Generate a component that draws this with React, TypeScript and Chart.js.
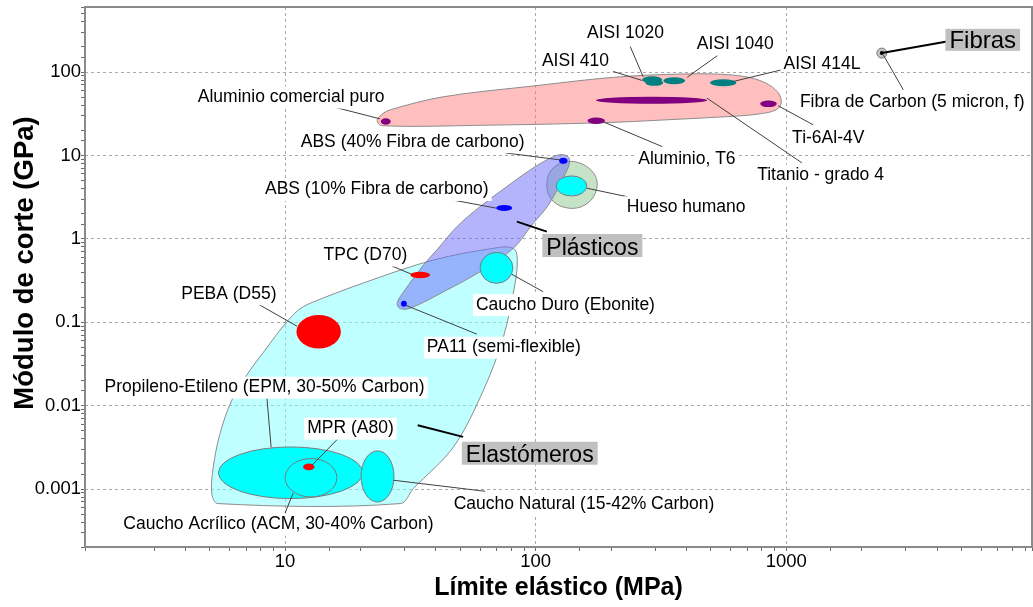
import React, { useEffect, useRef } from 'react';
import { Chart, registerables } from 'chart.js';

Chart.register(...registerables);

// ---------- axes ----------
const X_MIN = 1.59;
const X_MAX = 9570;
const Y_MIN = 0.000202;
const Y_MAX = 603;
const X_TITLE = 'Límite elástico (MPa)';
const Y_TITLE = 'Módulo de corte (GPa)';

// ---------- materials (yield strength MPa range, shear modulus GPa range) ----------
const materialNames = [
  'Propileno-Etileno (EPM, 30-50% Carbon)',
  'Caucho Acrílico (ACM, 30-40% Carbon)',
  'MPR (A80)',
  'Caucho Natural (15-42% Carbon)',
  'PEBA (D55)',
  'Caucho Duro (Ebonite)',
  'TPC (D70)',
  'PA11 (semi-flexible)',
  'ABS (10% Fibra de carbono)',
  'Hueso humano',
  'ABS (40% Fibra de carbono)',
  'Aluminio comercial puro',
  'Aluminio, T6',
  'Titanio - grado 4',
  'Ti-6Al-4V',
  'AISI 1020',
  'AISI 410',
  'AISI 1040',
  'AISI 414L',
  'Fibra de Carbon (5 micron, f)',
];
const yieldLow = [5.42, 10.0, 11.8, 20.1, 11.1, 60.0, 31.6, 29.0, 69.6, 120.7, 124, 24.1, 161, 174, 787, 266, 274, 323, 497, 2300];
const yieldHigh = [20.4, 16.1, 13.1, 27.2, 16.7, 81.1, 37.9, 30.6, 80.6, 160, 134, 26.4, 189, 484, 917, 320, 323, 395, 632, 2520];
const shearLow = [0.000769, 0.000804, 0.00168, 0.0007, 0.0486, 0.293, 0.337, 0.154, 2.16, 3.27, 7.93, 23.3, 23.8, 41.6, 38.0, 73.4, 68.5, 71.4, 67.5, 147];
const shearHigh = [0.0032, 0.00232, 0.00202, 0.00287, 0.122, 0.69, 0.404, 0.181, 2.55, 5.69, 9.36, 28.0, 28.5, 50.5, 45.6, 89.0, 80.8, 86.6, 82.0, 194];

// styles (kept apart from the values)
const materialFill = [
  '#00ffff', '#00ffff', '#ff0000', '#00ffff', '#ff0000', '#00ffff', '#ff0000', '#0000ff', '#0000ff', '#00ffff',
  '#0000ff', '#800080', '#800080', '#800080', '#800080', '#008080', '#008080', '#008080', '#008080', '#c4c4c4',
];
const materialOutlined = [true, true, false, true, false, true, false, false, false, true, false, false, false, false, false, false, false, false, false, true];
const materialCenterDot = [false, false, false, false, false, false, false, false, false, false, false, false, false, false, false, false, false, false, false, true];

// ---------- family envelopes ----------
const elastomerEnvX = [81.3, 84.4, 82.8, 74.4, 61.9, 47.0, 32.5, 28.8, 5.4, 5.1, 5.17, 5.5, 6.13, 7.25, 8.32, 9.55, 11.17, 12.58, 21.2, 39.1, 67.9];
const elastomerEnvY = [0.7715, 0.59, 0.293, 0.067, 0.01535, 0.0032, 0.001014, 0.00067, 0.00067, 0.000883, 0.00184, 0.00464, 0.01164, 0.02668, 0.0464, 0.0806, 0.1363, 0.1686, 0.3063, 0.558, 0.7715];
const boneEnvX = [111.2, 117.5, 132.4, 153.3, 171.2, 176.0, 166.6, 146.5, 125.3, 113.2];
const boneEnvY = [5.094, 7.099, 8.448, 7.93, 6.014, 4.315, 2.931, 2.35, 2.483, 3.273];
const plasticEnvX = [28.0, 29.3, 35.66, 40.3, 48.5, 60.0, 76.7, 95.1, 117.8, 130.0, 136.7, 132.4, 112.5, 96.6, 81.5, 60.0, 44.2, 31.55, 28.8];
const plasticEnvY = [0.1677, 0.2181, 0.486, 0.7357, 1.401, 2.436, 4.233, 6.716, 9.7, 10.17, 8.855, 6.356, 2.553, 1.469, 0.7715, 0.404, 0.2435, 0.1469, 0.1461];
const metalEnvX = [23.3, 24.2, 26.3, 42.7, 99.5, 217.5, 453.6, 673.3, 824.6, 929, 955, 912, 787, 614.3, 335, 180.9, 60.0, 24.4];
const metalEnvY = [26.0, 30.7, 35.3, 50.5, 68.5, 87.8, 95.4, 89.0, 74.4, 56.4, 42.8, 35.3, 31.6, 29.5, 26.8, 24.6, 23.0, 22.7];

const envelopeXs = [elastomerEnvX, boneEnvX, plasticEnvX, metalEnvX];
const envelopeYs = [elastomerEnvY, boneEnvY, plasticEnvY, metalEnvY];
const envelopeFill = ['rgba(128,255,255,0.5)', 'rgba(144,200,144,0.5)', 'rgba(112,112,250,0.52)', 'rgba(255,128,128,0.5)'];

// ---------- annotations ----------
const labelTexts = [
  'AISI 1020', 'AISI 410', 'AISI 1040', 'AISI 414L', 'Fibras', 'Fibra de Carbon (5 micron, f)', 'Ti-6Al-4V',
  'Titanio - grado 4', 'Aluminio, T6', 'Aluminio comercial puro', 'ABS (40% Fibra de carbono)',
  'ABS (10% Fibra de carbono)', 'Hueso humano', 'Plásticos', 'TPC (D70)', 'Caucho Duro (Ebonite)',
  'PA11 (semi-flexible)', 'PEBA (D55)', 'Propileno-Etileno (EPM, 30-50% Carbon)', 'MPR (A80)', 'Elastómeros',
  'Caucho Natural (15-42% Carbon)', 'Caucho Acrílico (ACM, 30-40% Carbon)',
];
const labelX = [228.3, 144.2, 625.8, 1388.7, 6087, 3184, 1471.5, 1370.9, 401.5, 10.57, 32.28, 23.23, 398.9, 168.4, 20.92, 131.5, 74.65, 5.966, 8.284, 18.23, 94.71, 155.9, 9.404];
const labelY = [304.7, 140.5, 224.8, 131.1, 244.3, 45.23, 16.96, 6.014, 9.359, 51.94, 15.18, 4.051, 2.503, 0.815, 0.6643, 0.1686, 0.05208, 0.2273, 0.01724, 0.005566, 0.002632, 0.000685, 0.000394];
const labelIsFamily = labelTexts.map((t) => t === 'Fibras' || t === 'Plásticos' || t === 'Elastómeros');

const leaderFromX = [238.4, 203.9, 530.4, 961.2, 4381, 2932, 1281.6, 1155.5, 319.8, 15.54, 75.55, 44.2, 231.3, 110.8, 26.67, 107.2, 58.23, 7.709, 8.451, 16.18, 51.35, 62.86, 10.0];
const leaderFromY = [202.9, 101.7, 156.9, 106.6, 232.9, 61.3, 23.3, 8.152, 12.79, 38.31, 10.74, 3.013, 3.211, 1.22, 0.4728, 0.2324, 0.07215, 0.1686, 0.013, 0.003961, 0.004222, 0.000941, 0.000517];
const leaderToX = [268.6, 266.2, 402.6, 614.3, 2410, 2439, 929, 482.4, 186.0, 23.94, 125.3, 70.0, 160.1, 84.14, 32.05, 80.35, 30.13, 11.14, 8.794, 12.79, 33.81, 27.11, 10.76];
const leaderToY = [87.8, 79.3, 86.6, 77.1, 169.1, 161.3, 39.4, 48.74, 25.32, 27.5, 8.855, 2.329, 4.051, 1.609, 0.3758, 0.3758, 0.1609, 0.09002, 0.003175, 0.00193, 0.005833, 0.001275, 0.00089];

const FONT = "'Liberation Sans', Arial, Helvetica, sans-serif";

function isPow10(v: number) {
  const l = Math.log10(v);
  return Math.abs(l - Math.round(l)) < 1e-6;
}
function fmtPow10(v: number) {
  const e = Math.round(Math.log10(v));
  return e >= 0 ? String(Math.pow(10, e)) : '0.' + '0'.repeat(-e - 1) + '1';
}

function unit(ax: number, ay: number) {
  const l = Math.hypot(ax, ay) || 1;
  return [ax / l, ay / l];
}

// closed smooth curve whose handles scale with each segment's own length (no overshoot)
function smoothClosedPath(ctx: CanvasRenderingContext2D, pts: number[][], s: number) {
  const n = pts.length;
  ctx.beginPath();
  ctx.moveTo(pts[0][0], pts[0][1]);
  for (let i = 0; i < n; i++) {
    const p0 = pts[(i - 1 + n) % n];
    const p1 = pts[i];
    const p2 = pts[(i + 1) % n];
    const p3 = pts[(i + 2) % n];
    const len = Math.hypot(p2[0] - p1[0], p2[1] - p1[1]);
    const d1 = unit(p2[0] - p0[0], p2[1] - p0[1]);
    const d2 = unit(p3[0] - p1[0], p3[1] - p1[1]);
    ctx.bezierCurveTo(
      p1[0] + d1[0] * len * s,
      p1[1] + d1[1] * len * s,
      p2[0] - d2[0] * len * s,
      p2[1] - d2[1] * len * s,
      p2[0],
      p2[1]
    );
  }
  ctx.closePath();
}

const ashbyPlugin = {
  id: 'ashby',
  beforeDatasetsDraw(chart: any) {
    const { ctx, chartArea } = chart;
    const xs = chart.scales.x;
    const ys = chart.scales.y;
    ctx.save();
    ctx.beginPath();
    ctx.rect(chartArea.left, chartArea.top, chartArea.right - chartArea.left, chartArea.bottom - chartArea.top);
    ctx.clip();
    // envelopes
    envelopeXs.forEach((ex, j) => {
      const pts = ex.map((v, i) => [xs.getPixelForValue(v), ys.getPixelForValue(envelopeYs[j][i])]);
      smoothClosedPath(ctx, pts, 0.33);
      ctx.fillStyle = envelopeFill[j];
      ctx.fill();
      ctx.strokeStyle = '#8c8c8c';
      ctx.lineWidth = 1;
      ctx.stroke();
    });
    // material bubbles
    materialNames.forEach((_, i) => {
      const x1 = xs.getPixelForValue(yieldLow[i]);
      const x2 = xs.getPixelForValue(yieldHigh[i]);
      const y1 = ys.getPixelForValue(shearLow[i]);
      const y2 = ys.getPixelForValue(shearHigh[i]);
      const cx = (x1 + x2) / 2;
      const cy = (y1 + y2) / 2;
      ctx.beginPath();
      ctx.ellipse(cx, cy, Math.abs(x2 - x1) / 2, Math.abs(y2 - y1) / 2, 0, 0, Math.PI * 2);
      ctx.fillStyle = materialFill[i];
      ctx.fill();
      if (materialOutlined[i]) {
        ctx.strokeStyle = '#7a7a7a';
        ctx.lineWidth = 1;
        ctx.stroke();
      }
      if (materialCenterDot[i]) {
        ctx.beginPath();
        ctx.arc(cx, cy, 2, 0, Math.PI * 2);
        ctx.fillStyle = '#000';
        ctx.fill();
      }
    });
    ctx.restore();
  },
  afterDraw(chart: any) {
    const { ctx, chartArea } = chart;
    const xs = chart.scales.x;
    const ys = chart.scales.y;
    ctx.save();
    // leader lines
    labelTexts.forEach((_, i) => {
      ctx.beginPath();
      ctx.moveTo(xs.getPixelForValue(leaderFromX[i]), ys.getPixelForValue(leaderFromY[i]));
      ctx.lineTo(xs.getPixelForValue(leaderToX[i]), ys.getPixelForValue(leaderToY[i]));
      ctx.strokeStyle = labelIsFamily[i] ? '#000' : '#404040';
      ctx.lineWidth = labelIsFamily[i] ? 2 : 1;
      ctx.stroke();
    });
    // labels
    labelTexts.forEach((t, i) => {
      const fam = labelIsFamily[i];
      const size = fam ? (t === 'Fibras' ? 24 : 23) : 17.5;
      ctx.font = `${size}px ${FONT}`;
      const m = ctx.measureText(t);
      const cx = xs.getPixelForValue(labelX[i]);
      const cy = ys.getPixelForValue(labelY[i]);
      const base = cy + 0.716 * size / 2;
      const asc = m.actualBoundingBoxAscent;
      const desc = m.actualBoundingBoxDescent;
      const padX = fam ? 4 : 3;
      const padY = 2.5;
      ctx.fillStyle = fam ? '#c0c0c0' : '#ffffff';
      ctx.fillRect(cx - m.width / 2 - padX, base - asc - padY, m.width + 2 * padX, asc + desc + 2 * padY);
      ctx.fillStyle = '#000';
      ctx.textAlign = 'center';
      ctx.textBaseline = 'alphabetic';
      ctx.fillText(t, cx, base);
    });
    // frame
    ctx.strokeStyle = '#8a8a8a';
    ctx.lineWidth = 2;
    ctx.strokeRect(chartArea.left, chartArea.top, chartArea.right - chartArea.left, chartArea.bottom - chartArea.top);
    // axis titles
    ctx.fillStyle = '#000';
    ctx.textAlign = 'center';
    ctx.textBaseline = 'alphabetic';
    ctx.font = `bold 25px ${FONT}`;
    ctx.fillText(X_TITLE, (chartArea.left + chartArea.right) / 2, chartArea.bottom + 48);
    ctx.translate(33, chartArea.top + 256);
    ctx.rotate(-Math.PI / 2);
    ctx.font = `bold 27.5px ${FONT}`;
    ctx.fillText(Y_TITLE, 0, 0);
    ctx.restore();
  },
};

function axisOptions(min: number, max: number, isX: boolean) {
  return {
    type: 'logarithmic',
    min,
    max,
    afterFit: (s: any) => {
      if (isX) s.height = 60;
      else s.width = 85;
      s.paddingTop = 0;
      s.paddingBottom = 0;
      s.paddingLeft = 0;
      s.paddingRight = 0;
    },
    border: { display: false, dash: [3, 3] },
    grid: {
      drawTicks: true,
      tickLength: 4,
      lineWidth: 1,
      color: (c: any) => {
        const v = c.tick ? c.tick.value : NaN;
        return v && isPow10(v) && v > min * 1.01 && v < max * 0.99 ? '#a8a8a8' : 'rgba(0,0,0,0)';
      },
      tickColor: '#6a6a6a',
    },
    ticks: {
      autoSkip: false,
      maxRotation: 0,
      padding: 0,
      color: '#000',
      font: { family: FONT, size: 18.5 },
      callback: (v: any) => {
        const n = Number(v);
        return isPow10(n) && n > min * 1.01 && n < max * 0.99 ? fmtPow10(n) : '';
      },
    },
  };
}

export default function App() {
  const canvasRef = useRef<HTMLCanvasElement | null>(null);
  useEffect(() => {
    if (!canvasRef.current) return;
    const chart = new Chart(canvasRef.current, {
      type: 'scatter',
      data: {
        datasets: [
          {
            data: materialNames.map((_, i) => ({
              x: Math.sqrt(yieldLow[i] * yieldHigh[i]),
              y: Math.sqrt(shearLow[i] * shearHigh[i]),
            })),
            pointRadius: 0,
            showLine: false,
          },
        ],
      },
      options: {
        animation: false,
        responsive: true,
        maintainAspectRatio: false,
        devicePixelRatio: 1,
        events: [],
        layout: { padding: { top: 7, right: 1, left: 0, bottom: 0 } },
        plugins: { legend: { display: false }, tooltip: { enabled: false } },
        scales: {
          x: axisOptions(X_MIN, X_MAX, true) as any,
          y: axisOptions(Y_MIN, Y_MAX, false) as any,
        },
      },
      plugins: [ashbyPlugin],
    } as any);
    return () => chart.destroy();
  }, []);
  return (
    <div style={{ position: 'absolute', left: 0, top: 0, width: 1033, height: 607, background: '#fff' }}>
      <canvas ref={canvasRef} />
    </div>
  );
}
